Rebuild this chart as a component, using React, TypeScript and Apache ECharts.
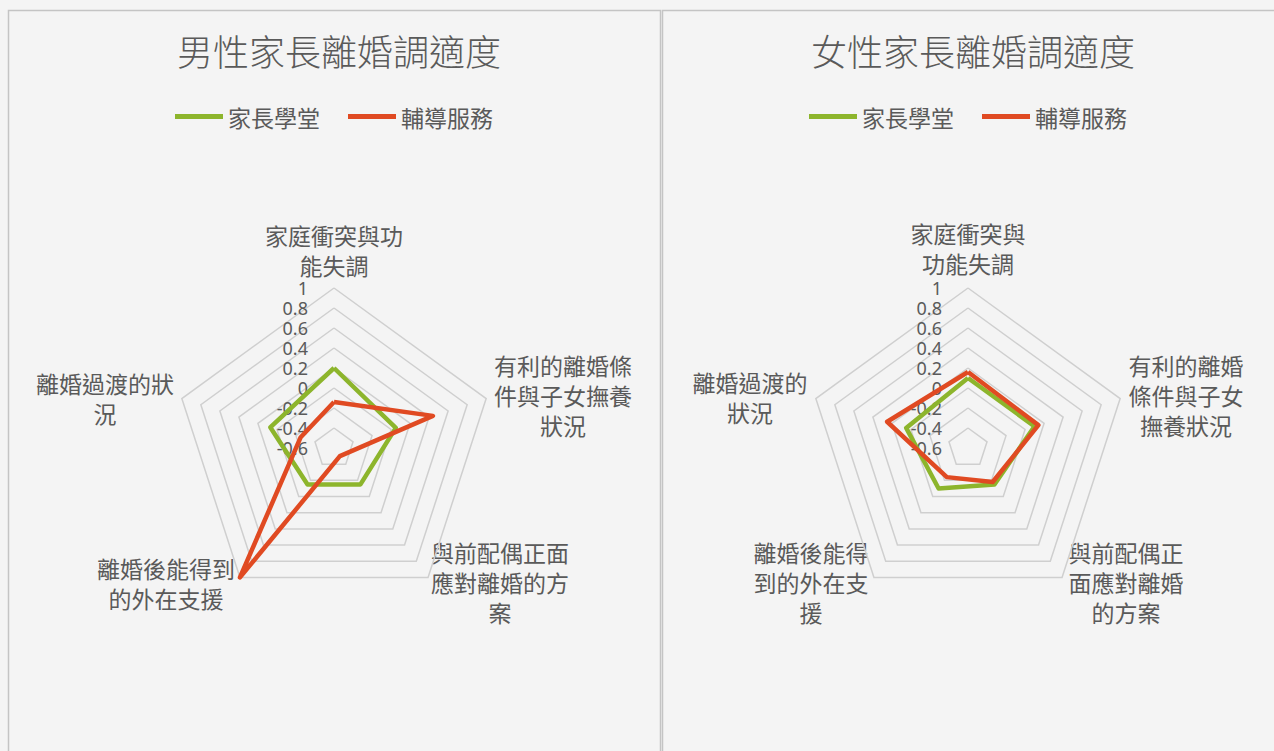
import React, { useEffect, useRef } from "react";
import * as echarts from "echarts";

// ---- data ----
const chartTitles = ["男性家長離婚調適度", "女性家長離婚調適度"];
const seriesNames = ["家長學堂", "輔導服務"];
// categories in clockwise order starting at the top
const categories = [
  "家庭衝突與功能失調",
  "有利的離婚條件與子女撫養狀況",
  "與前配偶正面應對離婚的方案",
  "離婚後能得到的外在支援",
  "離婚過渡的狀況",
];
const maleParentSchool = [0.2, 0.05, -0.15, -0.15, 0.07];
const maleCounseling = [-0.14, 0.44, -0.5, 1.0, -0.25];
const femaleParentSchool = [0.1, 0.1, -0.15, -0.1, 0.05];
const femaleCounseling = [0.16, 0.14, -0.18, -0.24, 0.25];
const axisMin = -0.6;
const axisMax = 1;
const axisInterval = 0.2;

// ---- styles / layout ----
const GREEN = "#8db52c";
const RED = "#e04a22";
const TEXT = "#5a5a5a";
const CJK = '"Noto Sans CJK TC", "Noto Sans CJK SC", sans-serif';
const NUM = '"Noto Sans", "Open Sans", sans-serif';
const R = 160;
const CY = 448;
const centersX = [334, 968];
const wrapWidth = [6, 5];
// label block centre offsets (relative to radar centre), clockwise order
const labelOffsets = [
  [
    [0, -198],
    [229, -53],
    [166, 134],
    [-168, 135],
    [-229, -50],
  ],
  [
    [0, -200],
    [218, -53],
    [158, 134],
    [-157, 134],
    [-218, -51],
  ],
];

function wrap(s: string, n: number) {
  const out: string[] = [];
  for (let i = 0; i < s.length; i += n) out.push(s.slice(i, i + n));
  return out.join("\n");
}

// ECharts radar lays indicators counter-clockwise; reorder clockwise data
const ccw = (arr: any[]) => [arr[0], arr[4], arr[3], arr[2], arr[1]];

export default function App() {
  const ref = useRef<HTMLDivElement>(null);
  useEffect(() => {
    if (!ref.current) return;
    const chart = echarts.init(ref.current, null, { renderer: "svg" });
    const data = [
      [maleParentSchool, maleCounseling],
      [femaleParentSchool, femaleCounseling],
    ];
    const graphics: any[] = [
      {
        type: "rect",
        shape: { x: 8.5, y: 10.5, width: 652, height: 760 },
        style: { fill: "none", stroke: "#c4c4c4", lineWidth: 1.5 },
        silent: true,
      },
      {
        type: "rect",
        shape: { x: 662.5, y: 10.5, width: 640, height: 760 },
        style: { fill: "none", stroke: "#c4c4c4", lineWidth: 1.5 },
        silent: true,
      },
    ];
    centersX.forEach((cx, ci) => {
      categories.forEach((c, i) => {
        const [dx, dy] = labelOffsets[ci][i];
        graphics.push({
          type: "text",
          x: cx + dx,
          y: CY + dy,
          silent: true,
          style: {
            text: wrap(c, wrapWidth[ci]),
            align: "center",
            verticalAlign: "middle",
            fontSize: 23,
            lineHeight: 30,
            fontFamily: CJK,
            fill: TEXT,
          },
        });
      });
    });

    const option: any = {
      animation: false,
      backgroundColor: "#f4f4f4",
      title: chartTitles.map((t, i) => ({
        text: t,
        left: centersX[i],
        top: 27,
        textAlign: "center",
        textStyle: {
          fontSize: 36,
          fontWeight: 300,
          fontFamily: CJK,
          color: TEXT,
        },
      })),
      legend: centersX.map((cx) => ({
        data: seriesNames,
        left: cx - 164,
        top: 100,
        icon: "rect",
        itemWidth: 48,
        itemHeight: 5,
        itemGap: 28,
        textStyle: { fontSize: 23, fontFamily: CJK, color: TEXT },
      })),
      radar: centersX.map((cx) => ({
        center: [cx, CY],
        radius: R,
        startAngle: 90,
        shape: "polygon",
        splitNumber: (axisMax - axisMin) / axisInterval,
        indicator: categories.map((c) => ({ name: c, min: axisMin, max: axisMax })),
        axisName: { show: false },
        splitLine: { lineStyle: { color: "#cfcfcf", width: 1.5 } },
        splitArea: { show: false },
        axisLine: { show: false },
        axisTick: { show: false },
        axisLabel: { show: false },
      })),
      grid: centersX.map((cx) => ({
        left: cx,
        width: 1,
        top: CY - R,
        height: R,
      })),
      xAxis: centersX.map((_, i) => ({
        type: "value",
        gridIndex: i,
        show: false,
      })),
      yAxis: centersX.map((_, i) => ({
        type: "value",
        gridIndex: i,
        min: axisMin,
        max: axisMax,
        interval: axisInterval,
        axisLine: { show: false },
        axisTick: { show: false },
        splitLine: { show: false },
        axisLabel: {
          margin: 26,
          fontSize: 18,
          lineHeight: 18,
          fontFamily: NUM,
          color: TEXT,
          formatter: (v: number) => String(Math.round(v * 10) / 10),
        },
      })),
      series: data.map((pair, ci) => ({
        type: "radar",
        radarIndex: ci,
        symbol: "none",
        data: pair.map((vals, si) => {
          const col = si === 0 ? GREEN : RED;
          return {
            name: seriesNames[si],
            value: ccw(vals),
            itemStyle: { color: col },
            lineStyle: { color: col, width: 4.5 },
          };
        }),
      })),
      graphic: graphics,
    };
    chart.setOption(option);
    return () => chart.dispose();
  }, []);
  return (
    <div
      ref={ref}
      style={{ position: "fixed", left: 0, top: 0, width: 1274, height: 751 }}
    />
  );
}
